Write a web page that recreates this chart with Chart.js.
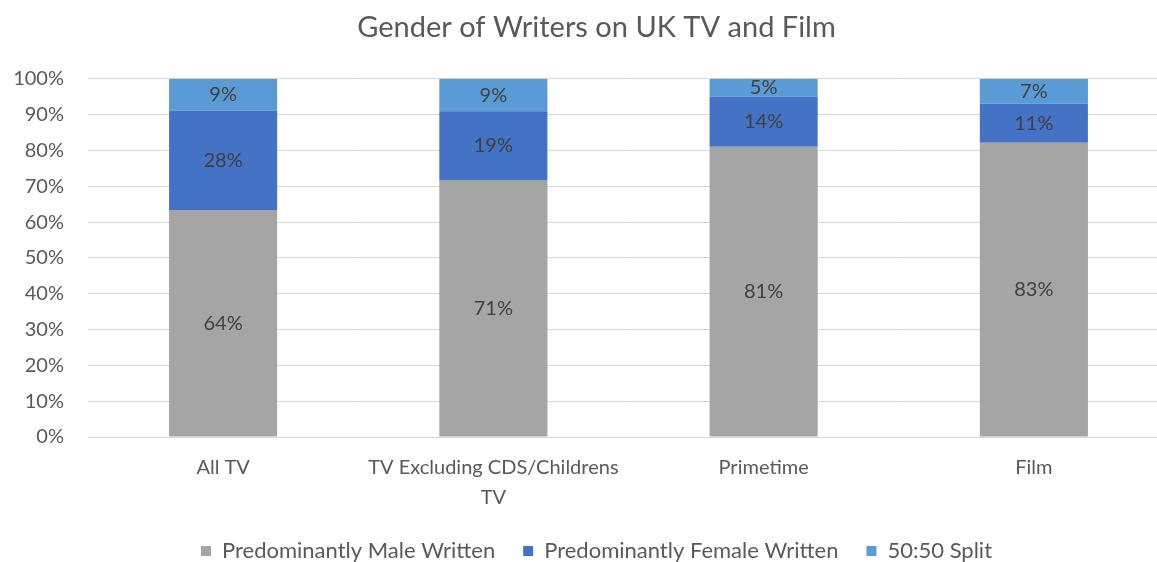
<!DOCTYPE html>
<html>
<head>
<meta charset="utf-8">
<script src="https://cdn.jsdelivr.net/npm/chart.js@4"></script>
<style>
	html, body { margin: 0; padding: 0; background: #fff; overflow: hidden; }
	#wrap { width: 1193px; height: 572px; }
</style>
</head>
<body>
<div id="wrap"><canvas id="writersChart" width="1193" height="572"></canvas></div>
<script>
const categories = ["All TV", ["TV Excluding CDS/Childrens", "TV"], "Primetime", "Film"];
const maleWritten = [64, 71, 81, 83];
const femaleWritten = [28, 19, 14, 11];
const splitWritten = [9, 9, 5, 7];
const yTicks = [0, 10, 20, 30, 40, 50, 60, 70, 80, 90, 100];

const fontFamily = "Lato, 'Open Sans', sans-serif";

// Excel 100% stacked: each column is scaled to its own total
const totals = maleWritten.map((m, i) => m + femaleWritten[i] + splitWritten[i]);
const share = (arr) => arr.map((v, i) => (v / totals[i]) * 100);

const raw = [maleWritten, femaleWritten, splitWritten];

const valueLabels = {
	id: "valueLabels",
	afterDatasetsDraw(chart) {
		const { ctx } = chart;
		ctx.save();
		ctx.font = "20px " + fontFamily;
		ctx.fillStyle = "#404040";
		ctx.textAlign = "center";
		ctx.textBaseline = "middle";
		chart.data.datasets.forEach((ds, di) => {
			const meta = chart.getDatasetMeta(di);
			meta.data.forEach((bar, i) => {
				ctx.fillText(raw[di][i] + "%", bar.x, (bar.y + bar.base) / 2);
			});
		});
		ctx.restore();
	},
};

new Chart(document.getElementById("writersChart"), {
	type: "bar",
	data: {
		labels: categories,
		datasets: [
			{ label: "Predominantly Male Written", data: share(maleWritten), backgroundColor: "#A5A5A5" },
			{ label: "Predominantly Female Written", data: share(femaleWritten), backgroundColor: "#4472C4" },
			{ label: "50:50 Split", data: share(splitWritten), backgroundColor: "#5B9BD5" },
		],
	},
	options: {
		responsive: false,
		animation: false,
		categoryPercentage: 1,
		barPercentage: 0.4,
		layout: { padding: 0 },
		plugins: {
			title: {
				display: true,
				text: "Gender of Writers on UK TV and Film",
				color: "#595959",
				font: { family: fontFamily, size: 29, weight: "normal" },
				padding: { top: 10, bottom: 34 },
			},
			legend: {
				position: "bottom",
				labels: {
					boxWidth: 10,
					boxHeight: 10,
					padding: 28,
					color: "#595959",
					font: { family: fontFamily, size: 22 },
				},
			},
			tooltip: { enabled: false },
		},
		scales: {
			x: {
				stacked: true,
				afterFit: (scale) => { scale.height = 75; },
				grid: { display: false },
				border: { color: "#D9D9D9" },
				ticks: {
					color: "#595959",
					font: { family: fontFamily, size: 20, lineHeight: 1.5 },
					padding: 8,
					maxRotation: 0,
				},
			},
			y: {
				stacked: true,
				min: 0,
				max: 100,
				afterFit: (scale) => { scale.width = 88; },
				afterBuildTicks: (scale) => { scale.ticks = yTicks.map((v) => ({ value: v })); },
				grid: { color: "#D9D9D9", drawTicks: false },
				border: { display: false },
				ticks: {
					color: "#595959",
					padding: 24,
					font: { family: fontFamily, size: 20 },
					callback: (v) => v + "%",
				},
			},
			// empty right-hand gutter so the plot keeps its width
			gutter: {
				axis: "y",
				position: "right",
				afterFit: (scale) => { scale.width = 24; },
				grid: { display: false },
				border: { display: false },
				ticks: { display: false },
			},
		},
	},
	plugins: [valueLabels],
});
</script>
</body>
</html>
